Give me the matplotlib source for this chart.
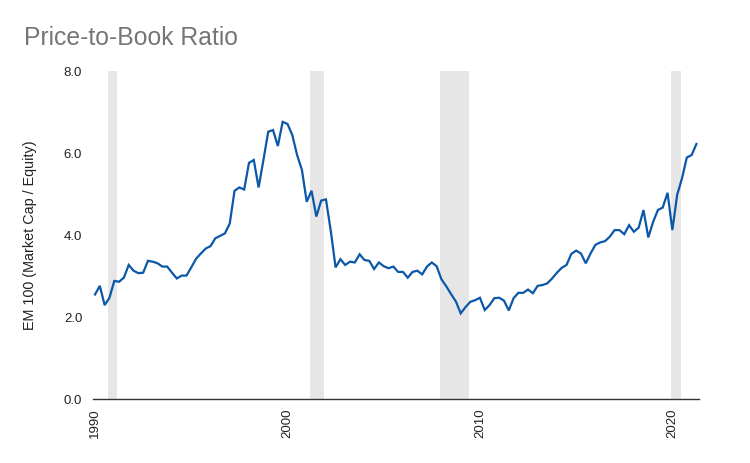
# Price-to-Book Ratio, EM100, quarterly with recession shading
import matplotlib
matplotlib.use('Agg')
import matplotlib.pyplot as plt
import pandas as pd
import numpy as np

# DATA (quarterly 1990Q1 - 2021Q2)
quarters = pd.period_range('1990Q1', '2021Q2', freq='Q')
pb_ratio = [
    2.55, 2.76, 2.29, 2.47,   # 1990
    2.88, 2.86, 2.96, 3.27,   # 1991
    3.13, 3.07, 3.08, 3.37,   # 1992
    3.35, 3.31, 3.23, 3.23,   # 1993
    3.08, 2.94, 3.01, 3.01,   # 1994
    3.21, 3.42, 3.55, 3.67,   # 1995
    3.73, 3.92, 3.98, 4.04,   # 1996
    4.28, 5.08, 5.16, 5.11,   # 1997
    5.76, 5.83, 5.16, 5.83,   # 1998
    6.52, 6.56, 6.17, 6.76,   # 1999
    6.71, 6.44, 5.95, 5.59,   # 2000
    4.81, 5.08, 4.45, 4.84,   # 2001
    4.87, 4.10, 3.21, 3.41,   # 2002
    3.27, 3.35, 3.33, 3.53,   # 2003
    3.39, 3.37, 3.17, 3.33,   # 2004
    3.24, 3.19, 3.23, 3.10,   # 2005
    3.10, 2.96, 3.10, 3.13,   # 2006
    3.04, 3.23, 3.33, 3.24,   # 2007
    2.92, 2.75, 2.56, 2.38,   # 2008
    2.09, 2.24, 2.37, 2.41,   # 2009
    2.47, 2.17, 2.29, 2.46,   # 2010
    2.47, 2.40, 2.16, 2.46,   # 2011
    2.59, 2.59, 2.67, 2.58,   # 2012
    2.76, 2.78, 2.82, 2.94,   # 2013
    3.08, 3.20, 3.27, 3.54,   # 2014
    3.62, 3.55, 3.31, 3.55,   # 2015
    3.76, 3.82, 3.85, 3.96,   # 2016
    4.12, 4.12, 4.02, 4.24,   # 2017
    4.08, 4.18, 4.61, 3.94,   # 2018
    4.32, 4.61, 4.67, 5.03,   # 2019
    4.12, 4.98, 5.38, 5.89,   # 2020
    5.95, 6.22,               # 2021
]
recession_start = [1990.66, 2001.17, 2007.92, 2019.92]
recession_end = [1991.16, 2001.90, 2009.43, 2020.44]
x_ticks = [1990, 2000, 2010, 2020]
y_ticks = [0, 2, 4, 6, 8]

df = pd.DataFrame({'Quarter': quarters, 'PB': pb_ratio})
df['Year'] = df['Quarter'].dt.year + (df['Quarter'].dt.quarter - 1) / 4

# DESIGN
plt.rcParams['font.family'] = ['Liberation Sans', 'DejaVu Sans']
fig = plt.figure(figsize=(7.5, 4.63), dpi=100)
ax = fig.add_axes([0.1244, 0.1382, 0.808, 0.7084])

# RECESSION BANDS
for s, e in zip(recession_start, recession_end):
    ax.axvspan(s, e, ymin=0, ymax=1, color='#e6e6e6', lw=0, zorder=0)

# LINE
ax.plot(df['Year'], df['PB'], color='#0b57a8', linewidth=1.6, zorder=3,
        solid_joinstyle='miter')

ax.set_xlim(1989.91, 2021.4)
ax.set_ylim(0, 8)
ax.set_xticks(x_ticks)
ax.set_xticklabels([str(t) for t in x_ticks], rotation=90, fontsize=9.5, color='#222222')
ax.set_yticks(y_ticks)
ax.set_yticklabels([f"{t:.1f}" for t in y_ticks], fontsize=9.5, color='#222222')
ax.tick_params(axis='both', length=0)
ax.tick_params(axis='x', pad=7)
ax.tick_params(axis='y', pad=8)

for side in ['top', 'right', 'left']:
    ax.spines[side].set_visible(False)
ax.spines['bottom'].set_color('#333333')
ax.spines['bottom'].set_linewidth(1.0)
ax.spines['bottom'].set_zorder(4)

ax.set_ylabel("EM 100 (Market Cap / Equity)", fontsize=10.4, color='#222222', labelpad=19)
fig.text(24 / 750, 1 - 26 / 463, "Price-to-Book Ratio", fontsize=17.8, color='#757575',
         ha='left', va='top')

fig.savefig('out.png', dpi=100, facecolor='white')
